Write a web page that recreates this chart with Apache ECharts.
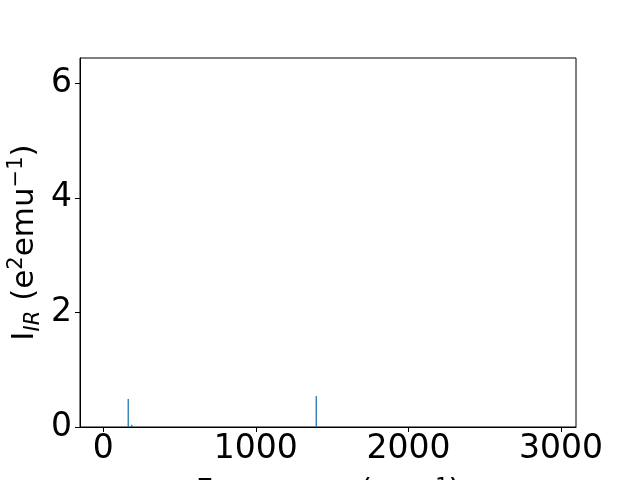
<!DOCTYPE html>
<html>
<head>
<meta charset="utf-8">
<script src="https://cdn.jsdelivr.net/npm/echarts@6/dist/echarts.min.js"></script>
<style>html,body{margin:0;padding:0;background:#fff}#c{width:640px;height:480px}</style>
</head>
<body>
<div id="c"></div>
<script>
var frequencies = [164, 187, 1396];
var intensities = [0.49, 0.04, 0.54];
var xTicks = [0, 1000, 2000, 3000];
var yTicks = [0, 2, 4, 6];

var chart = echarts.init(document.getElementById('c'), null, {renderer: 'canvas'});
var font = 'DejaVu Sans';
var data = frequencies.map(function (f, i) { return [f, intensities[i]]; });
var plain = function (v) { return String(v); };

chart.setOption({
  animation: false,
  backgroundColor: '#fff',
  grid: {left: 80, right: 64, top: 58, bottom: 53, containLabel: false, outerBoundsMode: 'none',
    show: true, borderColor: '#000', borderWidth: 1, backgroundColor: 'transparent'},
  xAxis: {
    type: 'value', min: -152, max: 3098,
    name: 'Frequency (cm{sup|−1})', nameLocation: 'middle', nameGap: 50, nameMoveOverlap: false,
    nameTextStyle: {fontFamily: font, fontSize: 30, color: '#000', verticalAlign: 'top',
      rich: {sup: {fontFamily: font, fontSize: 21, verticalAlign: 'top', lineHeight: 21, color: '#000'}}},
    axisLine: {show: true, onZero: false, lineStyle: {color: '#000', width: 1}},
    axisTick: {show: true, inside: false, length: 5, lineStyle: {color: '#000'}, customValues: xTicks},
    axisLabel: {fontFamily: font, fontSize: 33, color: '#000', margin: 6, formatter: plain, customValues: xTicks},
    splitLine: {show: false}
  },
  yAxis: {
    type: 'value', min: 0, max: 6.44,
    name: 'I{sub|IR} (e{sup|2}emu{sup|−1})', nameLocation: 'middle', nameGap: 36, nameRotate: 90, nameMoveOverlap: false,
    nameTextStyle: {fontFamily: font, fontSize: 31, color: '#000', lineHeight: 38,
      rich: {
        sub: {fontFamily: font, fontSize: 21, fontStyle: 'italic', verticalAlign: 'bottom', lineHeight: 21, color: '#000'},
        sup: {fontFamily: font, fontSize: 21, verticalAlign: 'top', lineHeight: 21, color: '#000'}
      }},
    axisLine: {show: true, onZero: false, lineStyle: {color: '#000', width: 1}},
    axisTick: {show: true, inside: false, length: 5, lineStyle: {color: '#000'}, customValues: yTicks},
    axisLabel: {fontFamily: font, fontSize: 33, color: '#000', margin: 8, formatter: plain, customValues: yTicks},
    splitLine: {show: false}
  },
  series: [{
    type: 'bar',
    data: data,
    barWidth: 1.3,
    itemStyle: {color: '#1f77b4'}
  }]
});
</script>
</body>
</html>
